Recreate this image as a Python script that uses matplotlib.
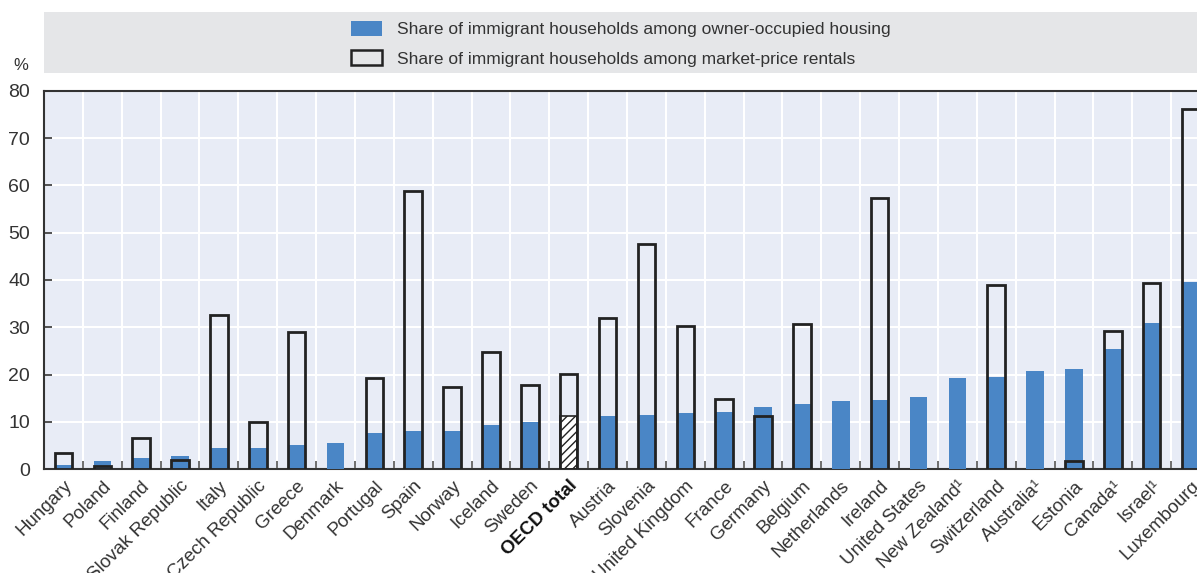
import matplotlib
matplotlib.use("Agg")
import matplotlib.pyplot as plt
from matplotlib.patches import Rectangle, Patch
from matplotlib.ticker import MultipleLocator, FixedLocator
import numpy as np

plt.rcParams['font.family'] = ['Liberation Sans Narrow', 'Liberation Sans', 'DejaVu Sans']

countries = ["Hungary", "Poland", "Finland", "Slovak Republic", "Italy", "Czech Republic",
             "Greece", "Denmark", "Portugal", "Spain", "Norway", "Iceland", "Sweden",
             "OECD total", "Austria", "Slovenia", "United Kingdom", "France", "Germany",
             "Belgium", "Netherlands", "Ireland", "United States", "New Zealand¹",
             "Switzerland", "Australia¹", "Estonia", "Canada¹", "Israel¹", "Luxembourg"]

owner_occupied = [0.8, 1.7, 2.3, 2.75, 4.4, 4.4, 5.1, 5.5, 7.6, 8.0, 8.0, 9.3, 9.9,
                  11.2, 11.2, 11.4, 11.85, 12.1, 13.1, 13.8, 14.4, 14.6, 15.2, 19.3,
                  19.5, 20.7, 21.2, 25.4, 30.9, 39.6]

market_rentals = [3.4, 0.7, 6.6, 2.0, 32.6, 10.0, 29.0, None, 19.3, 58.8, 17.3, 24.8, 17.8,
                  20.2, 32.0, 47.6, 30.3, 14.8, 11.2, 30.7, None, 57.4, None, None,
                  38.9, None, 1.76, 29.2, 39.4, 76.1]

legend_labels = ["Share of immigrant households among owner-occupied housing",
                 "Share of immigrant households among market-price rentals"]

BLUE = "#4A86C6"
BG = "#E8ECF6"
EDGE = "#222222"
TXT = "#333333"

W, H = 1197, 573
fig = plt.figure(figsize=(W / 100, H / 100), dpi=100)

ax_left, ax_right, ax_top, ax_bot = 44, 1210, 91, 469
ax = fig.add_axes([ax_left / W, 1 - ax_bot / H, (ax_right - ax_left) / W, (ax_bot - ax_top) / H])
ax.set_facecolor(BG)

n = len(countries)
x = np.arange(n)
bw = 0.45
oecd = countries.index("OECD total")

for i in range(n):
    if i == oecd:
        ax.bar(x[i], owner_occupied[i], width=bw, facecolor="white", edgecolor=EDGE,
               hatch="////", linewidth=1.2, zorder=3)
    else:
        ax.bar(x[i], owner_occupied[i], width=bw, color=BLUE, linewidth=0, zorder=3)

for i in range(n):
    v = market_rentals[i]
    if v is None:
        continue
    ax.bar(x[i], v, width=bw, facecolor="none", edgecolor=EDGE, linewidth=2.0, zorder=4)

ax.set_xlim(-0.5, n - 0.5)
ax.set_ylim(0, 80)
ax.yaxis.set_major_locator(MultipleLocator(10))

ax.set_xticks(x)
ax.set_xticklabels(countries)
ax.xaxis.set_minor_locator(FixedLocator(np.arange(-0.5, n, 1.0)))
ax.tick_params(axis='x', which='major', length=0, pad=6)
ax.tick_params(axis='x', which='minor', direction='in', length=6, width=1.2, color="#555555")
for lbl in ax.get_xticklabels():
    lbl.set_rotation(45)
    lbl.set_ha('right')
    lbl.set_rotation_mode('anchor')
    lbl.set_fontsize(13.5)
    lbl.set_color(TXT)
    if lbl.get_text() == "OECD total":
        lbl.set_fontweight('bold')
        lbl.set_color('#111111')

ax.tick_params(axis='y', direction='in', length=6, width=1.2, color="#333333",
               labelsize=14, labelcolor=TXT, pad=10)

ax.grid(True, which='minor', axis='x', color='white', linewidth=1.5, zorder=0)
ax.grid(True, which='major', axis='y', color='white', linewidth=1.5, zorder=0)
ax.set_axisbelow(True)

for side in ['left', 'bottom', 'top']:
    ax.spines[side].set_color('#333333')
    ax.spines[side].set_linewidth(1.5)
ax.spines['right'].set_visible(False)

# % label
fig.text(21 / W, 1 - 66 / H, "%", fontsize=12, color=TXT, ha='center', va='center')

# legend box
fig.patches.append(Rectangle((44 / W, 1 - 73 / H), (W - 44) / W, 61 / H,
                             transform=fig.transFigure, facecolor="#E5E6E8",
                             edgecolor='none', zorder=0))
handles = [Patch(facecolor=BLUE, edgecolor='none'),
           Patch(facecolor="#E5E6E8", edgecolor=EDGE, linewidth=1.8)]
leg = fig.legend(handles, legend_labels, loc='upper left',
                 bbox_to_anchor=(337 / W, 1 - 7 / H), frameon=False, fontsize=12.5,
                 handlelength=1.8, handleheight=0.92, handletextpad=0.85,
                 labelspacing=0.75, borderpad=0.3)
for t in leg.get_texts():
    t.set_color(TXT)

fig.savefig("out.png", dpi=100)
